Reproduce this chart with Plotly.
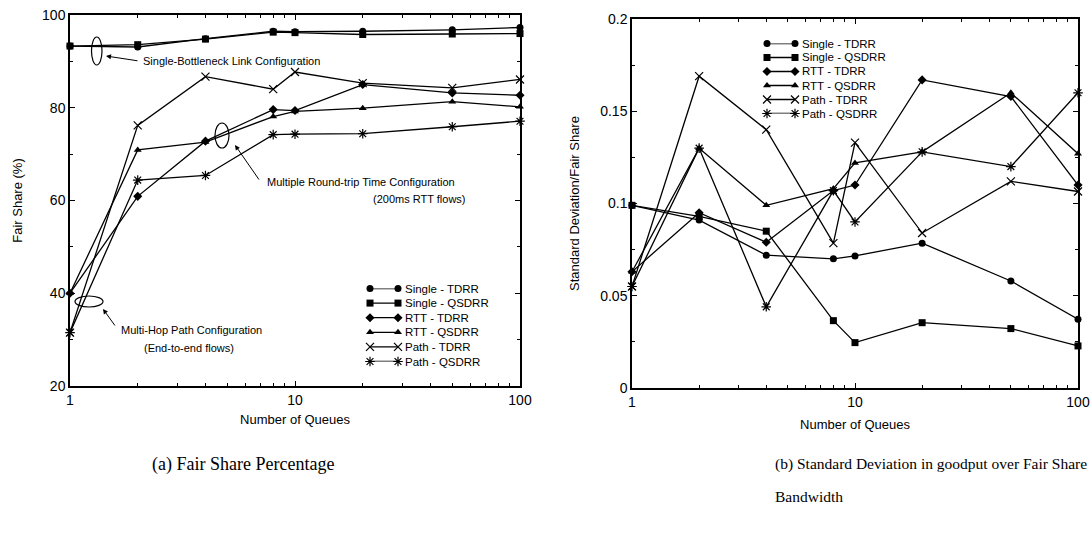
import plotly.graph_objects as go

# Number of queues on the shared (log) x axis
queues = [1, 2, 4, 8, 10, 20, 50, 100]

series_names = ["Single - TDRR", "Single - QSDRR", "RTT - TDRR",
                "RTT - QSDRR", "Path - TDRR", "Path - QSDRR"]
symbols = ["circle", "square", "diamond", "triangle-up", "x-thin-open", "asterisk-open"]

# (a) fair share percentage
fair_single_tdrr = [93.3, 93.1, 94.9, 96.5, 96.4, 96.5, 96.8, 97.3]
fair_single_qsdrr = [93.3, 93.6, 94.8, 96.3, 96.2, 95.8, 95.9, 96.0]
fair_rtt_tdrr = [40.0, 60.9, 72.8, 79.6, 79.4, 85.0, 83.2, 82.7]
fair_rtt_qsdrr = [40.0, 70.9, 72.6, 78.1, 79.2, 79.9, 81.3, 80.2]
fair_path_tdrr = [31.5, 76.2, 86.7, 84.0, 87.7, 85.3, 84.3, 86.1]
fair_path_qsdrr = [31.5, 64.4, 65.4, 74.2, 74.3, 74.4, 75.9, 77.1]

# (b) standard deviation of goodput over fair share
sd_single_tdrr = [0.099, 0.091, 0.072, 0.070, 0.0716, 0.0785, 0.058, 0.0373]
sd_single_qsdrr = [0.099, 0.093, 0.085, 0.0365, 0.0246, 0.0354, 0.0322, 0.0228]
sd_rtt_tdrr = [0.063, 0.095, 0.079, 0.107, 0.110, 0.167, 0.158, 0.110]
sd_rtt_qsdrr = [0.063, 0.130, 0.099, 0.108, 0.122, 0.128, 0.160, 0.127]
sd_path_tdrr = [0.055, 0.169, 0.140, 0.0785, 0.133, 0.084, 0.112, 0.1065]
sd_path_qsdrr = [0.055, 0.130, 0.044, 0.107, 0.090, 0.128, 0.120, 0.160]

fair_series = [fair_single_tdrr, fair_single_qsdrr, fair_rtt_tdrr,
               fair_rtt_qsdrr, fair_path_tdrr, fair_path_qsdrr]
sd_series = [sd_single_tdrr, sd_single_qsdrr, sd_rtt_tdrr,
             sd_rtt_qsdrr, sd_path_tdrr, sd_path_qsdrr]

x_ticks = [1, 10, 100]
x_tick_text = ["1", "10", "100"]
fair_ticks = [20, 40, 60, 80, 100]
sd_ticks = [0, 0.05, 0.1, 0.15, 0.2]
sd_tick_text = ["0", "0.05", "0.1", "0.15", "0.2"]

W, H = 1092, 534
SANS = "Liberation Sans, Arial, sans-serif"
SERIF = "Liberation Serif, Times New Roman, serif"


def px(x):
    return x / W


def py(y):
    return 1 - y / H


fig = go.Figure()


def marker_style(symbol):
    open_sym = symbol.endswith("open")
    return dict(symbol=symbol, size=8 if open_sym else 7, color="black",
                line=dict(color="black", width=1.2 if open_sym else 0))


def add_series(values, name, symbol, xa, ya):
    fig.add_trace(go.Scatter(
        x=queues, y=values, name=name, mode="lines+markers",
        xaxis=xa, yaxis=ya, cliponaxis=False, showlegend=False,
        line=dict(color="black", width=1.3),
        marker=marker_style(symbol),
    ))


for vals, name, sym in zip(fair_series, series_names, symbols):
    add_series(vals, name, sym, "x", "y")
for vals, name, sym in zip(sd_series, series_names, symbols):
    add_series(vals, name, sym, "x2", "y2")

# Key samples: a short line with a marker at each end, one row per series
legend_rows = list(range(len(series_names)))
for xa, ya in (("x3", "y3"), ("x4", "y4")):
    for row, name, sym in zip(legend_rows, series_names, symbols):
        fig.add_trace(go.Scatter(
            x=[0, 1], y=[row, row], mode="lines+markers", name=name,
            xaxis=xa, yaxis=ya, cliponaxis=False, showlegend=False,
            hoverinfo="skip", line=dict(color="black", width=1.3),
            marker=marker_style(sym),
        ))

minor_log = [2, 3, 4, 5, 6, 7, 8, 9, 20, 30, 40, 50, 60, 70, 80, 90]

axis_common = dict(
    showline=True, linecolor="black", linewidth=1.5, mirror="allticks",
    ticks="inside", ticklen=5, tickcolor="black", tickwidth=1,
    showgrid=False, zeroline=False, automargin=False,
    tickfont=dict(family=SANS, size=14, color="black"),
)
title_font = dict(family=SANS, size=13, color="black")
hidden = dict(visible=False, showgrid=False, zeroline=False, automargin=False,
              fixedrange=True)

fig.update_layout(
    width=W, height=H,
    margin=dict(l=0, r=0, t=0, b=0, autoexpand=False),
    paper_bgcolor="white", plot_bgcolor="white",
    showlegend=False,
    xaxis=dict(**axis_common, type="log", range=[0, 2],
               domain=[px(70), px(520)], anchor="y",
               tickvals=x_ticks, ticktext=x_tick_text,
               minor=dict(tickvals=minor_log, ticks="inside", ticklen=3, tickcolor="black"),
               title=dict(text="Number of Queues", standoff=8, font=title_font)),
    yaxis=dict(**axis_common, range=[20, 100],
               domain=[py(386), py(15)], anchor="x",
               tickvals=fair_ticks,
               minor=dict(dtick=10, ticks="inside", ticklen=3, tickcolor="black"),
               title=dict(text="Fair Share (%)", standoff=17, font=title_font)),
    xaxis2=dict(**axis_common, type="log", range=[0, 2],
                domain=[px(632), px(1078)], anchor="y2",
                tickvals=x_ticks, ticktext=x_tick_text,
                minor=dict(tickvals=minor_log, ticks="inside", ticklen=3, tickcolor="black"),
                title=dict(text="Number of Queues", standoff=11, font=title_font)),
    yaxis2=dict(**axis_common, range=[0, 0.2],
                domain=[py(388), py(19)], anchor="x2",
                tickvals=sd_ticks, ticktext=sd_tick_text,
                minor=dict(dtick=0.025, ticks="inside", ticklen=3, tickcolor="black"),
                title=dict(text="Standard Deviation/Fair Share", standoff=18,
                           font=title_font)),
    xaxis3=dict(**hidden, range=[0, 1], domain=[px(370), px(398)], anchor="y3"),
    yaxis3=dict(**hidden, range=[5, 0], domain=[py(361.5), py(288.5)], anchor="x3"),
    xaxis4=dict(**hidden, range=[0, 1], domain=[px(767), px(795)], anchor="y4"),
    yaxis4=dict(**hidden, range=[5, 0], domain=[py(113.5), py(43.5)], anchor="x4"),
)

# Key labels next to the samples
key_font = dict(family=SANS, size=11.5, color="black")
for row, name in zip(legend_rows, series_names):
    fig.add_annotation(xref="paper", yref="paper", x=px(403),
                       y=py(288.5 + row * 14.6), text=name, showarrow=False,
                       xanchor="left", yanchor="middle", font=key_font)
    fig.add_annotation(xref="paper", yref="paper", x=px(800),
                       y=py(43.5 + row * 14.0), text=name, showarrow=False,
                       xanchor="left", yanchor="middle", font=key_font)

# Callout ellipses on the fair-share panel
ellipses = [
    (91.5, 37, 102, 65),
    (215, 123, 229, 148),
    (75, 296, 103, 307),
]
for x0, y0, x1, y1 in ellipses:
    fig.add_shape(type="circle", xref="paper", yref="paper",
                  x0=px(x0), x1=px(x1), y0=py(y1), y1=py(y0),
                  line=dict(color="black", width=1.2))

# Arrows pointing from the labels to the ellipses
arrows = [
    ((106, 56), (139, 61)),
    ((235, 145), (260, 181)),
    ((103, 309), (116, 327)),
]
for (hx, hy), (tx, ty) in arrows:
    fig.add_annotation(xref="paper", yref="paper", x=px(hx), y=py(hy),
                       ax=tx - hx, ay=ty - hy, text="", showarrow=True,
                       arrowhead=2, arrowsize=1, arrowwidth=1, arrowcolor="black")

label_font = dict(family=SANS, size=11, color="black")
labels = [
    ("Single-Bottleneck Link Configuration", 141, 61, "left"),
    ("Multiple Round-trip Time Configuration", 265, 182, "left"),
    ("(200ms RTT flows)", 419, 199, "center"),
    ("Multi-Hop Path Configuration", 119, 330, "left"),
    ("(End-to-end flows)", 189, 348, "center"),
]
for text, x, y, anchor in labels:
    fig.add_annotation(xref="paper", yref="paper", x=px(x), y=py(y),
                       text=text, showarrow=False, xanchor=anchor, yanchor="middle",
                       font=label_font)

# Sub-figure captions
fig.add_annotation(xref="paper", yref="paper", x=px(150), y=py(464),
                   text="(a) Fair Share Percentage", showarrow=False,
                   xanchor="left", yanchor="middle",
                   font=dict(family=SERIF, size=18, color="black"))
cap_b = dict(family=SERIF, size=15.5, color="black")
fig.add_annotation(xref="paper", yref="paper", x=px(773), y=py(464),
                   text="(b) Standard Deviation in goodput over Fair Share",
                   showarrow=False, xanchor="left", yanchor="middle", font=cap_b)
fig.add_annotation(xref="paper", yref="paper", x=px(773), y=py(496),
                   text="Bandwidth", showarrow=False,
                   xanchor="left", yanchor="middle", font=cap_b)

fig.write_html("out.html")
